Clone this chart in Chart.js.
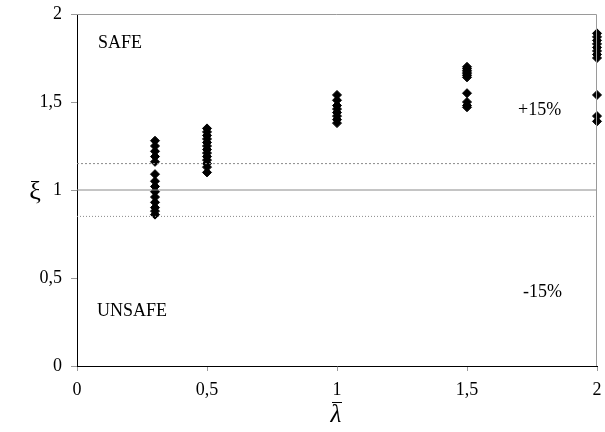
<!DOCTYPE html>
<html>
<head>
<meta charset="utf-8">
<script src="https://cdn.jsdelivr.net/npm/chart.js@4.4.1/dist/chart.umd.min.js"></script>
<style>
  html, body { margin: 0; padding: 0; background: #fff; }
  #wrap { width: 605px; height: 432px; }
</style>
</head>
<body>
<div id="wrap"><canvas id="xiChart" width="605" height="432"></canvas></div>
<script>
// slenderness values where tests were run
const lambdaValues = [0.3, 0.5, 1, 1.5, 2];

// measured xi ratios per slenderness
const xiAt03 = [1.28, 1.25, 1.22, 1.19, 1.16, 1.09, 1.05, 1.02, 0.99, 0.96, 0.93, 0.90, 0.88, 0.86];
const xiAt05 = [1.35, 1.33, 1.31, 1.29, 1.27, 1.25, 1.23, 1.21, 1.19, 1.17, 1.15, 1.13, 1.10];
const xiAt10 = [1.54, 1.51, 1.48, 1.46, 1.44, 1.42, 1.40, 1.38];
const xiAt15 = [1.70, 1.69, 1.68, 1.67, 1.66, 1.65, 1.64, 1.55, 1.50, 1.48, 1.47];
const xiAt20 = [1.89, 1.87, 1.85, 1.83, 1.81, 1.79, 1.77, 1.75, 1.54, 1.42, 1.39];
const xiSeries = [xiAt03, xiAt05, xiAt10, xiAt15, xiAt20];

// reference band: xi = 1 and ±15 %
const bandLevels = [1, 1.15, 0.85];
const xRange = [0, 2];

const yTicks = [0, 0.5, 1, 1.5, 2];
const xTicks = [0, 0.5, 1, 1.5, 2];

const points = [];
xiSeries.forEach((vals, i) => vals.forEach(v => points.push({ x: lambdaValues[i], y: v })));

const bandLine = (level, dash) => ({
  type: 'line',
  data: xRange.map(x => ({ x, y: level })),
  borderColor: '#8a8a8a',
  borderWidth: 1,
  borderDash: dash,
  pointRadius: 0,
  fill: false
});

const fmt = v => String(v).replace('.', ',');
const SERIF = '"Liberation Serif", "Times New Roman", serif';

// frame, axis titles and region labels
const decorations = {
  id: 'decorations',
  afterDatasetsDraw(chart) {
    const { ctx, chartArea: a } = chart;
    ctx.save();
    ctx.strokeStyle = '#9a9a9a';
    ctx.lineWidth = 1;
    ctx.beginPath();
    ctx.moveTo(a.left, a.top + 0.5);
    ctx.lineTo(a.right - 0.5, a.top + 0.5);
    ctx.lineTo(a.right - 0.5, a.bottom);
    ctx.stroke();

    ctx.fillStyle = '#000';
    ctx.textBaseline = 'middle';
    ctx.textAlign = 'left';
    ctx.font = '18px ' + SERIF;
    ctx.fillText('SAFE', 98, 43);
    ctx.fillText('UNSAFE', 97, 311);
    ctx.fillText('+15%', 518, 110);
    ctx.fillText('-15%', 523, 292);

    ctx.textAlign = 'center';
    ctx.font = '26px ' + SERIF;
    ctx.fillText('ξ', 35, 192);

    // λ with an overbar
    ctx.font = 'italic 25px ' + SERIF;
    ctx.fillText('λ', 336, 415);
    ctx.strokeStyle = '#000';
    ctx.beginPath();
    ctx.moveTo(332, 402.5);
    ctx.lineTo(342, 402.5);
    ctx.stroke();
    ctx.restore();
  }
};

new Chart(document.getElementById('xiChart'), {
  data: {
    datasets: [
      bandLine(bandLevels[0], []),
      bandLine(bandLevels[1], [2, 2]),
      bandLine(bandLevels[2], [1, 2]),
      {
        type: 'scatter',
        data: points,
        pointStyle: 'rectRot',
        pointRadius: 4.5,
        pointBackgroundColor: '#000',
        pointBorderColor: '#000',
        pointBorderWidth: 1,
        clip: false
      }
    ]
  },
  options: {
    responsive: false,
    animation: false,
    layout: { padding: { top: 14, right: 8, left: 0, bottom: 0 } },
    plugins: { legend: { display: false }, tooltip: { enabled: false } },
    scales: {
      x: {
        type: 'linear',
        min: 0, max: 2,
        afterBuildTicks: s => { s.ticks = xTicks.map(v => ({ value: v })); },
        afterFit: s => { s.height = 66; s.paddingLeft = 0; s.paddingRight = 0; },
        border: { color: '#000', width: 1 },
        grid: { drawOnChartArea: false, tickLength: 5, color: '#9a9a9a' },
        ticks: { color: '#000', padding: 8, font: { family: SERIF, size: 18 }, callback: fmt }
      },
      y: {
        type: 'linear',
        min: 0, max: 2,
        afterBuildTicks: s => { s.ticks = yTicks.map(v => ({ value: v })); },
        afterFit: s => { s.width = 77; s.paddingTop = 0; s.paddingBottom = 0; },
        border: { color: '#000', width: 1 },
        grid: { drawOnChartArea: false, tickLength: 6, color: '#9a9a9a' },
        ticks: { color: '#000', padding: 9, font: { family: SERIF, size: 18 }, callback: fmt }
      }
    }
  },
  plugins: [decorations]
});
</script>
</body>
</html>
